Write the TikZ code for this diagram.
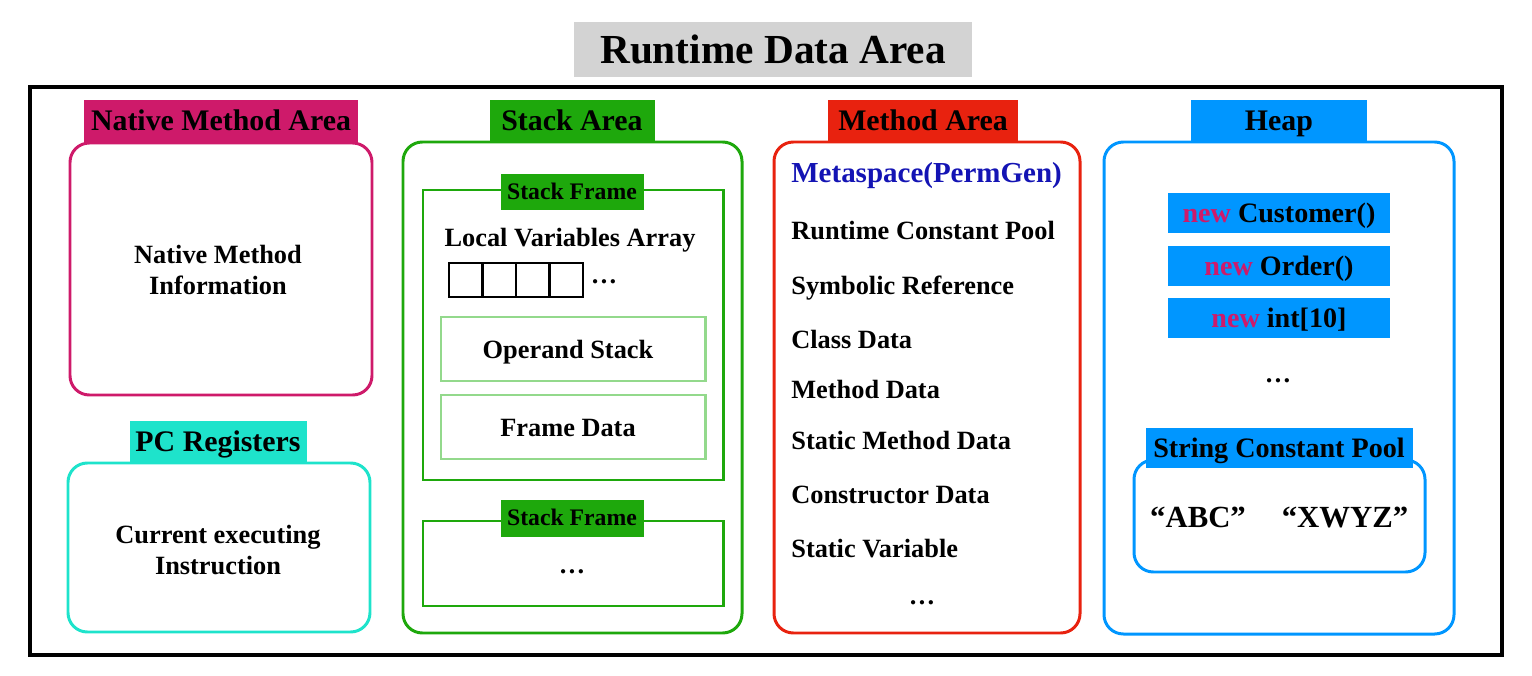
\documentclass[tikz,border=0pt]{standalone}
\usepackage{fontspec}
\setmainfont{Liberation Serif}
\usepackage{xcolor}
\definecolor{nativecol}{HTML}{CE1A6A}
\definecolor{pccol}{HTML}{1EE3CB}
\definecolor{stackcol}{HTML}{1EA80C}
\definecolor{framecol}{HTML}{93D98C}
\definecolor{methodcol}{HTML}{E8220F}
\definecolor{heapcol}{HTML}{0096FF}
\definecolor{metacol}{HTML}{1414B4}
\definecolor{titlecol}{HTML}{D3D3D3}
\newcommand{\itemfont}{\fontsize{15}{18}\selectfont\bfseries}
\newcommand{\tagfont}{\fontsize{17}{19}\selectfont\bfseries}
\newcommand{\kw}[1]{\textcolor{nativecol}{#1}}
\tikzset{
  area/.style={line width=1.7pt, rounded corners=11pt},
  frame/.style={line width=1.7pt},
  tag/.style={inner sep=0pt, font=\tagfont, text height=15pt, text depth=3.7pt},
  para/.style={inner sep=0pt, font=\itemfont, align=center},
  txt/.style={inner sep=0pt, font=\itemfont, text height=13.4pt, text depth=3.3pt},
  item/.style={txt, anchor=west},
  dots/.style={inner sep=0pt, font=\itemfont, anchor=base},
  small tag/.style={inner sep=0pt, font=\fontsize{13.5}{15}\selectfont\bfseries, text height=12pt, text depth=3pt},
  heap item/.style={inner sep=0pt, font=\fontsize{16}{18}\selectfont\bfseries, text height=14.2pt, text depth=3.5pt},
  quote/.style={inner sep=0pt, font=\fontsize{17.5}{19}\selectfont\bfseries, text height=15.6pt, text depth=3.9pt},
}
\begin{document}
\begin{tikzpicture}[x=0.02cm, y=-0.02cm]
  \useasboundingbox (0,0) rectangle (1532,676);
  % title
  \fill[titlecol] (574,22) rectangle (972,77);
  \node[inner sep=0pt, font=\fontsize{23.5}{27}\selectfont\bfseries, text height=21pt, text depth=5.2pt] (title) at (773,50) {Runtime Data Area};
  % outer frame
  \draw[line width=2pt] (30,87) rectangle (1502,655);

  % --- native method area ---
  \draw[area, nativecol] (70,143) rectangle (372,395);
  \fill[nativecol] (84,100) rectangle (358,142);
  \node[tag] (nativetag) at (221,121) {Native Method Area};
  \node[para] (nativeinfo) at (218,270) {Native Method\\Information};

  % --- pc registers ---
  \draw[area, pccol] (68,463) rectangle (370,632);
  \fill[pccol] (130,421) rectangle (307,462);
  \node[tag] (pctag) at (218,442) {PC Registers};
  \node[para] (pcinfo) at (218,550) {Current executing\\Instruction};

  % --- stack area ---
  \draw[area, stackcol] (403,142) rectangle (742,633);
  \fill[stackcol] (490,100) rectangle (655,142);
  \node[tag] (stacktag) at (572,121) {Stack Area};
  % first frame
  \draw[frame, stackcol] (423,190) rectangle (723,480);
  \fill[stackcol] (501,174) rectangle (644,210);
  \node[small tag] (frametagA) at (572,192) {Stack Frame};
  \node[txt] (localvars) at (570,238) {Local Variables Array};
  \foreach \i in {0,...,3}
    \draw[line width=1.3pt] (449+33.5*\i,263) rectangle (482.5+33.5*\i,297);
  \node[dots] (localdots) at (604,283) {\dots};
  \draw[frame, framecol] (441,317) rectangle (705,381);
  \node[txt] (operand) at (568,350) {Operand Stack};
  \draw[frame, framecol] (441,395) rectangle (705,459);
  \node[txt] (framedata) at (568,428) {Frame Data};
  % second frame
  \draw[frame, stackcol] (423,521) rectangle (723,606);
  \fill[stackcol] (501,500) rectangle (644,537);
  \node[small tag] (frametagB) at (572,518) {Stack Frame};
  \node[dots] (framedots) at (572,573) {\dots};

  % --- method area ---
  \draw[area, methodcol] (774,142) rectangle (1080,633);
  \fill[methodcol] (828,100) rectangle (1018,142);
  \node[tag] (methodtag) at (923,121) {Method Area};
  \node[item, text=metacol, font=\fontsize{16.5}{18}\selectfont\bfseries, text height=14.7pt, text depth=3.6pt] (meta) at (791,173) {Metaspace(PermGen)};
  \node[item] (rcpool) at (791,231) {Runtime Constant Pool};
  \node[item] (symref) at (791,286) {Symbolic Reference};
  \node[item] (classdata) at (791,340) {Class Data};
  \node[item] (methoddata) at (791,390) {Method Data};
  \node[item] (staticmethod) at (791,441) {Static Method Data};
  \node[item] (ctordata) at (791,495) {Constructor Data};
  \node[item] (staticvar) at (791,549) {Static Variable};
  \node[dots] (methoddots) at (922,604) {\dots};

  % --- heap ---
  \draw[area, heapcol] (1104,142) rectangle (1454,634);
  \fill[heapcol] (1191,100) rectangle (1367,141);
  \node[tag] (heaptag) at (1279,121) {Heap};
  \fill[heapcol] (1168,193) rectangle (1390,233);
  \node[heap item] (customer) at (1279,213) {\kw{new} Customer()};
  \fill[heapcol] (1168,246) rectangle (1390,286);
  \node[heap item] (order) at (1279,266) {\kw{new} Order()};
  \fill[heapcol] (1168,298) rectangle (1390,338);
  \node[heap item] (intarr) at (1279,318) {\kw{new} int[10]};
  \node[dots] (heapdots) at (1278,382) {\dots};
  % string pool
  \draw[area, heapcol] (1134,460) rectangle (1425,572);
  \fill[heapcol] (1146,428) rectangle (1413,468);
  \node[heap item] (pooltag) at (1279,448) {String Constant Pool};
  \node[quote] (abc) at (1198,517) {“ABC”};
  \node[quote] (xwyz) at (1345,517) {“XWYZ”};
\end{tikzpicture}
\end{document}
